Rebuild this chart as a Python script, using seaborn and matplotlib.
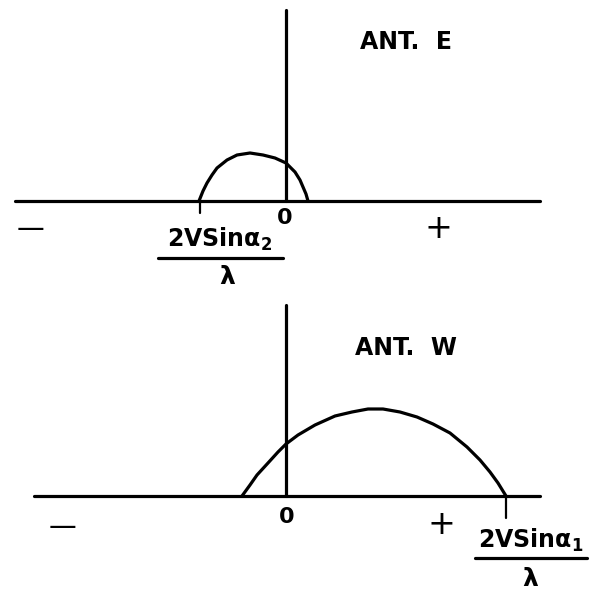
import pandas as pd
from matplotlib import pyplot as plt
import seaborn as sns

# arc readings, offsets in px from the origin (x right, height up)
east_x = [-87, -83, -79, -74, -69, -59, -49, -36, -23, -11, 0, 9, 14, 17, 20, 22]
east_h = [0, 10, 18, 26, 33, 41, 46, 48, 46, 43, 38, 29, 21, 14, 7, 0]

west_x = [-44, -36, -29, -18, -8, 0, 12, 29, 49, 66, 82, 97, 114, 131, 147, 164, 181, 194, 204, 212, 220]
west_h = [0, 11, 21, 33, 44, 52, 61, 71, 80, 84, 87, 87, 84, 79, 72, 63, 49, 36, 24, 13, 0]

east = pd.DataFrame({'x': east_x, 'h': east_h})
west = pd.DataFrame({'x': west_x, 'h': west_h})

sns.set_theme(style="white")
plt.rcParams['font.family'] = ['DejaVu Sans']

fig = plt.figure(figsize=(5.97, 5.92), dpi=100)
ax1 = fig.add_axes([0, 0.5, 1, 0.5])
ax2 = fig.add_axes([0, 0, 1, 0.5])

lw = 2.3
bold = dict(fontweight='bold', ha='center', va='center', color='black')
thin = dict(ha='center', va='center', color='black')

# ---- top: ANT. E
ax1.plot([-271, 254], [0, 0], color='black', lw=lw)
ax1.plot([0, 0], [0, 191], color='black', lw=lw)
sns.lineplot(x='x', y='h', data=east, ax=ax1, color='black', lw=lw, sort=False)
ax1.plot([-86, -86], [0, -12], color='black', lw=1.6)
ax1.text(120, 159, 'ANT.  E', fontsize=17, **bold)
ax1.text(-1, -17, '0', fontsize=16, **bold)
ax1.text(-255, -28, '—', fontsize=20, **thin)
ax1.text(152, -28, '+', fontsize=24, **thin)
ax1.text(-66, -38, r'2VSinα$_\mathbf{2}$', fontsize=17, **bold)
ax1.plot([-128, -3], [-57, -57], color='black', lw=lw)
ax1.text(-59, -76, 'λ', fontsize=18, **bold)
ax1.set_xlim(-286, 311)
ax1.set_ylim(-95, 201)

# ---- bottom: ANT. W
ax2.plot([-252, 254], [0, 0], color='black', lw=lw)
ax2.plot([0, 0], [0, 191], color='black', lw=lw)
sns.lineplot(x='x', y='h', data=west, ax=ax2, color='black', lw=lw, sort=False)
ax2.plot([220, 220], [0, -22], color='black', lw=1.6)
ax2.text(120, 148, 'ANT.  W', fontsize=17, **bold)
ax2.text(1, -21, '0', fontsize=16, **bold)
ax2.text(-224, -31, '—', fontsize=20, **thin)
ax2.text(155, -29, '+', fontsize=24, **thin)
ax2.text(245, -44, r'2VSinα$_\mathbf{1}$', fontsize=17, **bold)
ax2.plot([189, 301], [-62, -62], color='black', lw=lw)
ax2.text(244, -83, 'λ', fontsize=18, **bold)
ax2.set_xlim(-286, 311)
ax2.set_ylim(-96, 200)

for ax in (ax1, ax2):
    ax.set_axis_off()

plt.savefig('out.png', dpi=100)
